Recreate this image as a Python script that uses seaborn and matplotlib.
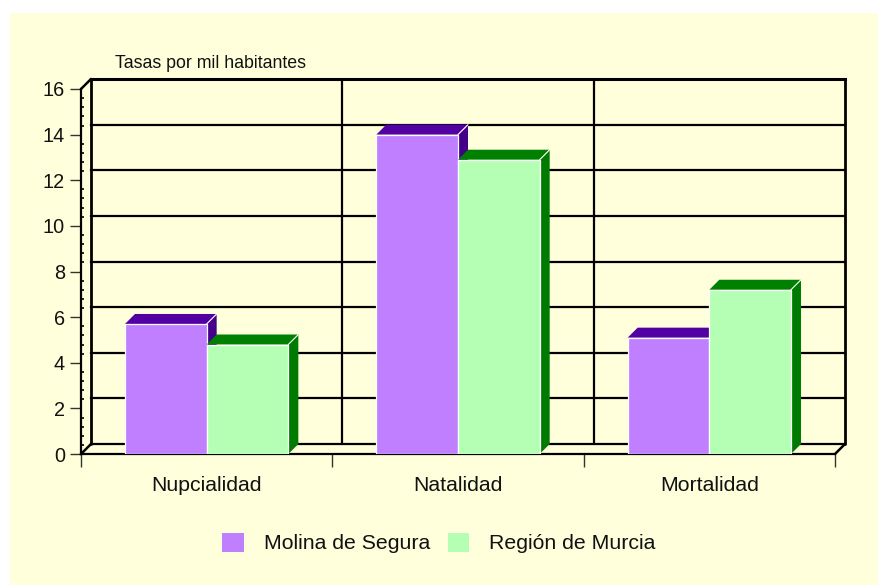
import matplotlib
matplotlib.use("Agg")
import numpy as np
import pandas as pd
import seaborn as sns
import matplotlib.pyplot as plt
from matplotlib.patches import Polygon, Rectangle, Patch

# ---- data ----
categories = ["Nupcialidad", "Natalidad", "Mortalidad"]
molina = [5.7, 14.0, 5.1]
murcia = [4.8, 12.9, 7.2]
series = ["Molina de Segura", "Región de Murcia"]
y_ticks = [0, 2, 4, 6, 8, 10, 12, 14, 16]
y_label = "Tasas por mil habitantes"

# ---- style ----
BG = "#FFFFDC"
FRONT = ["#BF7FFF", "#B4FFB4"]
TOP = ["#5200A3", "#008000"]
SIDE = ["#44008A", "#007A00"]

sns.set_theme(style="white")
plt.rcParams["font.family"] = ["Liberation Sans", "DejaVu Sans"]

df = pd.DataFrame({
    "Categoria": categories * 2,
    "Tasa": molina + murcia,
    "Serie": [series[0]] * len(categories) + [series[1]] * len(categories),
})

W, H = 879, 585
fig = plt.figure(figsize=(W / 100, H / 100), dpi=100, facecolor="white")
fig.add_artist(Rectangle((10 / W, 0), 1, (H - 13) / H, transform=fig.transFigure,
                         facecolor=BG, edgecolor="none", zorder=-10))

ax = fig.add_axes([81 / W, (H - 454) / H, 754 / W, 365 / H])
ax.set_facecolor("none")

sns.barplot(data=df, x="Categoria", y="Tasa", hue="Serie", palette=FRONT,
            width=0.65, saturation=1, edgecolor="white", linewidth=0.9,
            ax=ax, legend=False)

ax.set_xlim(-0.5, len(categories) - 0.5)
ax.set_ylim(y_ticks[0], y_ticks[-1])
ax.set_xlabel("")
ax.set_ylabel("")

# depth offset (10 px right, 10 px up) in data units
o = ax.transData.transform((0, 0))
p = ax.transData.inverted().transform(o + np.array([10.0, 10.0]))
DX, DY = p[0], p[1]

x_lo, x_hi = -0.5, len(categories) - 0.5
ytop = y_ticks[-1]

# back wall gridlines
for v in y_ticks:
    lw = 2.2 if v == ytop else 1.6
    ax.plot([x_lo + DX, x_hi + DX], [v + DY, v + DY], color="black", lw=lw,
            zorder=1, clip_on=False, solid_capstyle="projecting")
for xv in np.arange(x_lo, x_hi + 0.01, 1.0):
    lw = 2.0 if xv in (x_lo, x_hi) else 1.6
    ax.plot([xv + DX, xv + DX], [DY, ytop + DY], color="black", lw=lw,
            zorder=1, clip_on=False)
# diagonals of the box
for (xv, yv) in [(x_lo, 0), (x_lo, ytop), (x_hi, 0)]:
    ax.plot([xv, xv + DX], [yv, yv + DY], color="black", lw=1.8,
            zorder=1, clip_on=False)

# 3D faces for bars
for h, cont in enumerate(ax.containers):
    z = 3 + 2 * h
    for bar in cont:
        x0 = bar.get_x()
        w = bar.get_width()
        hg = bar.get_height()
        bar.set_zorder(z + 0.5)
        top = Polygon([(x0, hg), (x0 + w, hg), (x0 + w + DX, hg + DY), (x0 + DX, hg + DY)],
                      closed=True, facecolor=TOP[h], edgecolor="none", zorder=z, clip_on=False)
        side = Polygon([(x0 + w, 0), (x0 + w + DX, DY), (x0 + w + DX, hg + DY), (x0 + w, hg)],
                       closed=True, facecolor=SIDE[h], edgecolor="none", zorder=z, clip_on=False)
        ax.add_patch(side)
        ax.add_patch(top)
        ax.plot([x0 + w, x0 + w + DX], [hg, hg + DY], color="white", lw=0.8,
                zorder=z + 0.6, clip_on=False)

# spines
for s in ["top", "right"]:
    ax.spines[s].set_visible(False)
for s in ["left", "bottom"]:
    ax.spines[s].set_visible(True)
    ax.spines[s].set_color("black")
    ax.spines[s].set_linewidth(1.6)
    ax.spines[s].set_zorder(2)

# y ticks
ax.set_yticks(y_ticks)
ax.set_yticklabels([str(t) for t in y_ticks])
ax.set_yticks(np.arange(y_ticks[0], y_ticks[-1] + 0.01, 0.4), minor=True)
ax.tick_params(axis="y", which="major", direction="out", length=8, width=1,
               color="#333333", pad=3.5, labelsize=14.3, labelcolor="#111111", left=True)
ax.tick_params(axis="y", which="minor", direction="in", length=2.5, width=1.4,
               color="#222222", left=True)

# x ticks: boundaries as major ticks, category names as minor labels
ax.set_xticks(np.arange(x_lo, x_hi + 0.01, 1.0))
ax.set_xticklabels([])
ax.set_xticks(range(len(categories)), minor=True)
ax.set_xticklabels(categories, minor=True)
ax.tick_params(axis="x", which="major", direction="out", length=9, width=1,
               color="#333333", bottom=True)
ax.tick_params(axis="x", which="minor", length=0, pad=15.5, labelsize=15.3,
               labelcolor="#111111", bottom=True)

fig.text(115 / W, 1 - 64 / H, y_label, fontsize=12.8, ha="left", va="center", color="#111111")

handles = [Patch(facecolor=FRONT[i], edgecolor="none") for i in range(len(series))]
fig.legend(handles, series, loc="center", bbox_to_anchor=(439 / W, 1 - 543 / H),
           ncol=2, frameon=False, fontsize=15.3, handlelength=1.0, handleheight=1.0,
           handletextpad=0.94, columnspacing=0.85, labelcolor="#111111")

fig.savefig("out.png", dpi=100, facecolor=fig.get_facecolor())
